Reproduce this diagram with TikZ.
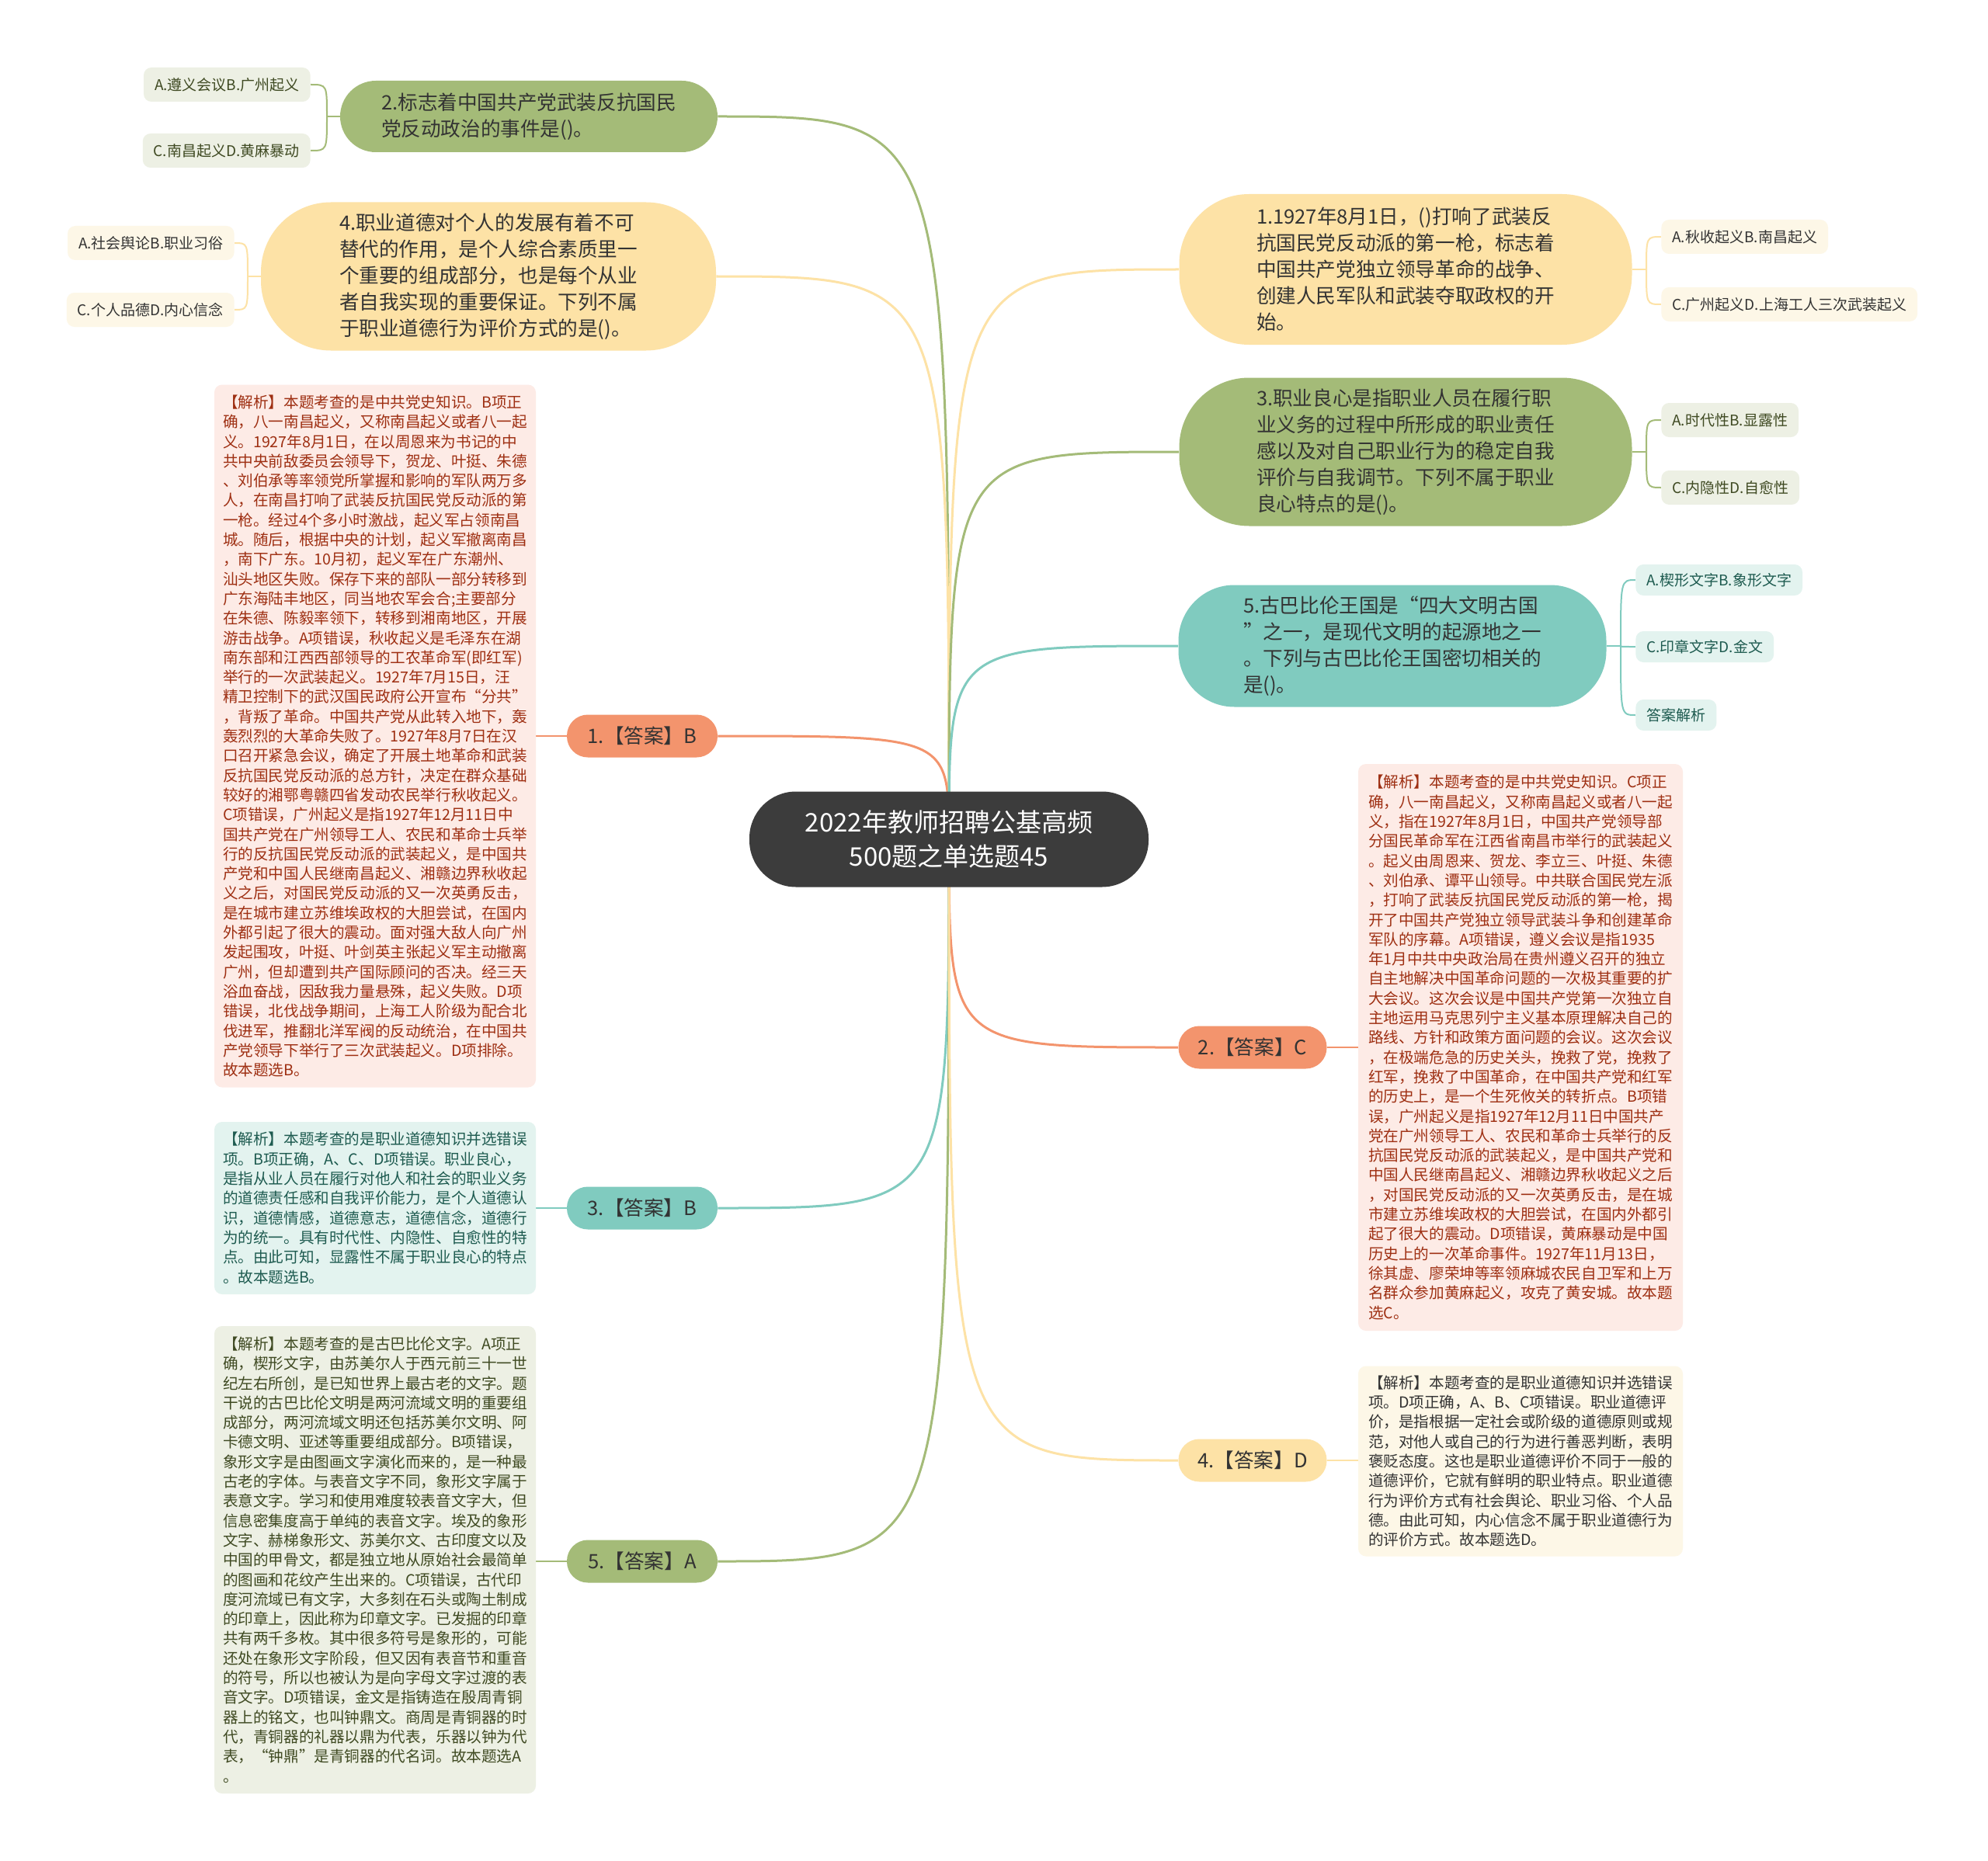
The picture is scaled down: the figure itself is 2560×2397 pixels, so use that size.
\documentclass[tikz,border=0pt]{standalone}
\usepackage{fontspec}
\setmainfont{Noto Sans CJK SC}
\usetikzlibrary{backgrounds}
\definecolor{mmDark}{HTML}{3C3C3C}
\definecolor{mmInk}{HTML}{333333}
\definecolor{mmGreen}{HTML}{A4BB78}
\definecolor{mmYellow}{HTML}{FDE2A6}
\definecolor{mmTeal}{HTML}{80CBBF}
\definecolor{mmSalmon}{HTML}{F3946D}
\definecolor{mmGreenSoft}{HTML}{EDF0E4}
\definecolor{mmYellowSoft}{HTML}{FDF7E7}
\definecolor{mmTealSoft}{HTML}{E3F3EF}
\definecolor{mmPinkSoft}{HTML}{FDEBE6}
\definecolor{mmGreenInk}{HTML}{3F4A22}
\definecolor{mmTealInk}{HTML}{1E5B50}
\definecolor{mmPinkInk}{HTML}{9E2F12}
\tikzset{
  ctrbox/.style={fill=mmDark, text=white, rounded corners=30pt, minimum width=257pt, minimum height=61.5pt, inner sep=0pt, align=center, font=\fontsize{16.5}{22}\selectfont},
  qbox/.style={rounded corners=45pt, inner sep=0pt, align=left, text=mmInk, font=\fontsize{12.8}{17}\selectfont},
  qG/.style={qbox, fill=mmGreen},
  qY/.style={qbox, fill=mmYellow},
  qT/.style={qbox, fill=mmTeal},
  ansbox/.style={rounded corners=13.5pt, minimum height=27.5pt, inner sep=0pt, text=mmInk, font=\fontsize{12.8}{15}\selectfont},
  explbox/.style={rounded corners=5pt, inner sep=0pt, align=left, font=\fontsize{9.8}{12.65}\selectfont},
  explS/.style={explbox, fill=mmPinkSoft, text=mmPinkInk},
  explT/.style={explbox, fill=mmTealSoft, text=mmTealInk},
  explG/.style={explbox, fill=mmGreenSoft, text=mmGreenInk},
  explY/.style={explbox, fill=mmYellowSoft, text=mmInk},
  optbox/.style={rounded corners=5pt, inner xsep=7pt, inner ysep=0pt, minimum height=22pt, font=\fontsize{9.5}{11}\selectfont},
  optG/.style={optbox, fill=mmGreenSoft, text=mmGreenInk},
  optY/.style={optbox, fill=mmYellowSoft, text=mmInk},
  optT/.style={optbox, fill=mmTealSoft, text=mmTealInk},
  br/.style={line width=1.5pt},
  twig/.style={line width=1pt},
}

\begin{document}
\begin{tikzpicture}[x=0.5pt, y=-0.5pt]
  \useasboundingbox (0,0) rectangle (2560,2397);

  % centre
  \node[ctrbox] (ctr) at (1222,1081) {2022年教师招聘公基高频\\500题之单选题45};

  % left questions
  \node[qG, minimum width=243pt, minimum height=46pt, rounded corners=23pt] (q2) at (681,150) {2.标志着中国共产党武装反抗国民\\党反动政治的事件是()。};
  \node[optG, anchor=east] (o2a) at (400,109) {A.遵义会议B.广州起义};
  \node[optG, anchor=east] (o2b) at (400,194) {C.南昌起义D.黄麻暴动};

  \node[qY, minimum width=293pt, minimum height=95.5pt] (q4) at (629,356) {4.职业道德对个人的发展有着不可\\替代的作用，是个人综合素质里一\\个重要的组成部分，也是每个从业\\者自我实现的重要保证。下列不属\\于职业道德行为评价方式的是()。};
  \node[optY, anchor=east] (o4a) at (302,313) {A.社会舆论B.职业习俗};
  \node[optY, anchor=east] (o4b) at (302,399) {C.个人品德D.内心信念};

  % right questions
  \node[qY, minimum width=291.5pt, minimum height=97pt] (q1) at (1810,347) {1.1927年8月1日，()打响了武装反\\抗国民党反动派的第一枪，标志着\\中国共产党独立领导革命的战争、\\创建人民军队和武装夺取政权的开\\始。};
  \node[optY, anchor=west] (o1a) at (2139,305) {A.秋收起义B.南昌起义};
  \node[optY, anchor=west] (o1b) at (2139,392) {C.广州起义D.上海工人三次武装起义};

  \node[qG, minimum width=291.5pt, minimum height=95.5pt] (q3) at (1810,582) {3.职业良心是指职业人员在履行职\\业义务的过程中所形成的职业责任\\感以及对自己职业行为的稳定自我\\评价与自我调节。下列不属于职业\\良心特点的是()。};
  \node[optG, anchor=west] (o3a) at (2139,541) {A.时代性B.显露性};
  \node[optG, anchor=west] (o3b) at (2139,628) {C.内隐性D.自愈性};

  \node[qT, minimum width=275.5pt, minimum height=78.5pt, rounded corners=36pt] (q5) at (1793,832) {5.古巴比伦王国是“四大文明古国\\”之一，是现代文明的起源地之一\\。下列与古巴比伦王国密切相关的\\是()。};
  \node[optT, anchor=west, minimum height=20pt] (o5a) at (2106,747) {A.楔形文字B.象形文字};
  \node[optT, anchor=west, minimum height=20pt] (o5b) at (2106,833) {C.印章文字D.金文};
  \node[optT, anchor=west, minimum height=20pt] (o5c) at (2106,921) {答案解析};

  % answers, left
  \node[ansbox, fill=mmSalmon, minimum width=97pt] (a1) at (827,948) {1.【答案】B};
  \node[ansbox, fill=mmTeal, minimum width=97pt] (a3) at (827,1556) {3.【答案】B};
  \node[ansbox, fill=mmGreen, minimum width=97pt] (a5) at (827,2011) {5.【答案】A};

  % answers, right
  \node[ansbox, fill=mmSalmon, minimum width=95.5pt] (a2) at (1613,1349) {2.【答案】C};
  \node[ansbox, fill=mmYellow, minimum width=95.5pt] (a4) at (1613,1881) {4.【答案】D};

  % explanations
  \node[explS, minimum width=207pt, minimum height=452.5pt] (e1) at (483,948) {【解析】本题考查的是中共党史知识。B项正\\确，八一南昌起义，又称南昌起义或者八一起\\义。1927年8月1日，在以周恩来为书记的中\\共中央前敌委员会领导下，贺龙、叶挺、朱德\\、刘伯承等率领党所掌握和影响的军队两万多\\人，在南昌打响了武装反抗国民党反动派的第\\一枪。经过4个多小时激战，起义军占领南昌\\城。随后，根据中央的计划，起义军撤离南昌\\，南下广东。10月初，起义军在广东潮州、\\汕头地区失败。保存下来的部队一部分转移到\\广东海陆丰地区，同当地农军会合;主要部分\\在朱德、陈毅率领下，转移到湘南地区，开展\\游击战争。A项错误，秋收起义是毛泽东在湖\\南东部和江西西部领导的工农革命军(即红军)\\举行的一次武装起义。1927年7月15日，汪\\精卫控制下的武汉国民政府公开宣布“分共”\\，背叛了革命。中国共产党从此转入地下，轰\\轰烈烈的大革命失败了。1927年8月7日在汉\\口召开紧急会议，确定了开展土地革命和武装\\反抗国民党反动派的总方针，决定在群众基础\\较好的湘鄂粤赣四省发动农民举行秋收起义。\\C项错误，广州起义是指1927年12月11日中\\国共产党在广州领导工人、农民和革命士兵举\\行的反抗国民党反动派的武装起义，是中国共\\产党和中国人民继南昌起义、湘赣边界秋收起\\义之后，对国民党反动派的又一次英勇反击，\\是在城市建立苏维埃政权的大胆尝试，在国内\\外都引起了很大的震动。面对强大敌人向广州\\发起围攻，叶挺、叶剑英主张起义军主动撤离\\广州，但却遭到共产国际顾问的否决。经三天\\浴血奋战，因敌我力量悬殊，起义失败。D项\\错误，北伐战争期间，上海工人阶级为配合北\\伐进军，推翻北洋军阀的反动统治，在中国共\\产党领导下举行了三次武装起义。D项排除。\\故本题选B。};
  \node[explT, minimum width=207pt, minimum height=111pt] (e3) at (483,1556) {【解析】本题考查的是职业道德知识并选错误\\项。B项正确，A、C、D项错误。职业良心，\\是指从业人员在履行对他人和社会的职业义务\\的道德责任感和自我评价能力，是个人道德认\\识，道德情感，道德意志，道德信念，道德行\\为的统一。具有时代性、内隐性、自愈性的特\\点。由此可知，显露性不属于职业良心的特点\\。故本题选B。};
  \node[explG, minimum width=207pt, minimum height=301pt] (e5) at (483,2009) {【解析】本题考查的是古巴比伦文字。A项正\\确，楔形文字，由苏美尔人于西元前三十一世\\纪左右所创，是已知世界上最古老的文字。题\\干说的古巴比伦文明是两河流域文明的重要组\\成部分，两河流域文明还包括苏美尔文明、阿\\卡德文明、亚述等重要组成部分。B项错误，\\象形文字是由图画文字演化而来的，是一种最\\古老的字体。与表音文字不同，象形文字属于\\表意文字。学习和使用难度较表音文字大，但\\信息密集度高于单纯的表音文字。埃及的象形\\文字、赫梯象形文、苏美尔文、古印度文以及\\中国的甲骨文，都是独立地从原始社会最简单\\的图画和花纹产生出来的。C项错误，古代印\\度河流域已有文字，大多刻在石头或陶土制成\\的印章上，因此称为印章文字。已发掘的印章\\共有两千多枚。其中很多符号是象形的，可能\\还处在象形文字阶段，但又因有表音节和重音\\的符号，所以也被认为是向字母文字过渡的表\\音文字。D项错误，金文是指铸造在殷周青铜\\器上的铭文，也叫钟鼎文。商周是青铜器的时\\代，青铜器的礼器以鼎为代表，乐器以钟为代\\表，“钟鼎”是青铜器的代名词。故本题选A\\。};
  \node[explS, minimum width=209pt, minimum height=365pt] (e2) at (1958,1349) {【解析】本题考查的是中共党史知识。C项正\\确，八一南昌起义，又称南昌起义或者八一起\\义，指在1927年8月1日，中国共产党领导部\\分国民革命军在江西省南昌市举行的武装起义\\。起义由周恩来、贺龙、李立三、叶挺、朱德\\、刘伯承、谭平山领导。中共联合国民党左派\\，打响了武装反抗国民党反动派的第一枪，揭\\开了中国共产党独立领导武装斗争和创建革命\\军队的序幕。A项错误，遵义会议是指1935\\年1月中共中央政治局在贵州遵义召开的独立\\自主地解决中国革命问题的一次极其重要的扩\\大会议。这次会议是中国共产党第一次独立自\\主地运用马克思列宁主义基本原理解决自己的\\路线、方针和政策方面问题的会议。这次会议\\，在极端危急的历史关头，挽救了党，挽救了\\红军，挽救了中国革命，在中国共产党和红军\\的历史上，是一个生死攸关的转折点。B项错\\误，广州起义是指1927年12月11日中国共产\\党在广州领导工人、农民和革命士兵举行的反\\抗国民党反动派的武装起义，是中国共产党和\\中国人民继南昌起义、湘赣边界秋收起义之后\\，对国民党反动派的又一次英勇反击，是在城\\市建立苏维埃政权的大胆尝试，在国内外都引\\起了很大的震动。D项错误，黄麻暴动是中国\\历史上的一次革命事件。1927年11月13日，\\徐其虚、廖荣坤等率领麻城农民自卫军和上万\\名群众参加黄麻起义，攻克了黄安城。故本题\\选C。};
  \node[explY, minimum width=209pt, minimum height=122.5pt] (e4) at (1958,1882) {【解析】本题考查的是职业道德知识并选错误\\项。D项正确，A、B、C项错误。职业道德评\\价，是指根据一定社会或阶级的道德原则或规\\范，对他人或自己的行为进行善恶判断，表明\\褒贬态度。这也是职业道德评价不同于一般的\\道德评价，它就有鲜明的职业特点。职业道德\\行为评价方式有社会舆论、职业习俗、个人品\\德。由此可知，内心信念不属于职业道德行为\\的评价方式。故本题选D。};

  % junctions for the option twigs
  \coordinate (q2j) at (421,150);
  \coordinate (q4j) at (319,356);
  \coordinate (q1j) at (2120,347);
  \coordinate (q3j) at (2120,582);
  \coordinate (q5j) at (2087,832);

  \begin{scope}[on background layer]
    \fill[white] (0,0) rectangle (2560,2397);
    % branches from the centre
    \foreach \n/\a/\c in {q2/east/mmGreen, q4/east/mmYellow, a1/east/mmSalmon, a3/east/mmTeal, a5/east/mmGreen, q1/west/mmYellow, q3/west/mmGreen, q5/west/mmTeal, a2/west/mmSalmon, a4/west/mmYellow}
      \draw[br, draw=\c] (ctr.center) .. controls (ctr.center |- \n.\a) .. (\n.\a);
    % option twigs
    \draw[twig, draw=mmGreen] (q2.west) -- (q2j);
    \foreach \o in {o2a,o2b} \draw[twig, draw=mmGreen] (q2j) .. controls (q2j |- \o.east) .. (\o.east);
    \draw[twig, draw=mmYellow] (q4.west) -- (q4j);
    \foreach \o in {o4a,o4b} \draw[twig, draw=mmYellow] (q4j) .. controls (q4j |- \o.east) .. (\o.east);
    \draw[twig, draw=mmYellow] (q1.east) -- (q1j);
    \foreach \o in {o1a,o1b} \draw[twig, draw=mmYellow] (q1j) .. controls (q1j |- \o.west) .. (\o.west);
    \draw[twig, draw=mmGreen] (q3.east) -- (q3j);
    \foreach \o in {o3a,o3b} \draw[twig, draw=mmGreen] (q3j) .. controls (q3j |- \o.west) .. (\o.west);
    \draw[twig, draw=mmTeal] (q5.east) -- (q5j);
    \foreach \o in {o5a,o5b,o5c} \draw[twig, draw=mmTeal] (q5j) .. controls (q5j |- \o.west) .. (\o.west);
    % answer to explanation
    \draw[twig, draw=mmSalmon] (a1.west) -- (a1.west -| e1.east);
    \draw[twig, draw=mmTeal] (a3.west) -- (a3.west -| e3.east);
    \draw[twig, draw=mmGreen] (a5.west) -- (a5.west -| e5.east);
    \draw[twig, draw=mmSalmon] (a2.east) -- (a2.east -| e2.west);
    \draw[twig, draw=mmYellow] (a4.east) -- (a4.east -| e4.west);
  \end{scope}
\end{tikzpicture}
\end{document}
